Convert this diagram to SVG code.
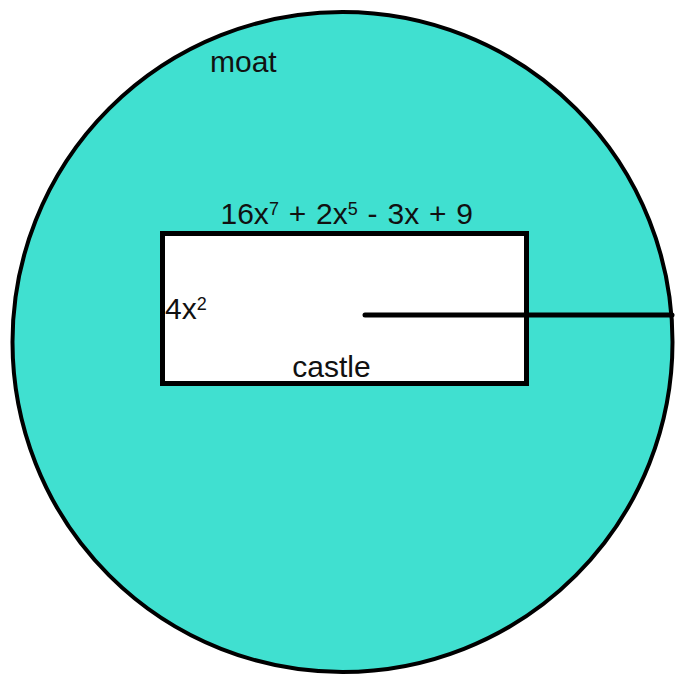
<svg xmlns="http://www.w3.org/2000/svg" width="679" height="675" viewBox="0 0 679 675">
<style>
text{font-family:"Liberation Sans",Arial,sans-serif;fill:#111;}
.t{font-size:30px;}
.s{font-size:18px;}
</style>
<rect width="679" height="675" fill="#fff"/>
<g id="moat">
<circle cx="342.5" cy="342" r="330" fill="#40E0D0" stroke="#000" stroke-width="4"/>
<text class="t" x="210" y="72">moat</text>
</g>
<g id="castle">
<rect x="162.5" y="233.5" width="364" height="150" fill="#fff" stroke="#000" stroke-width="5"/>
<text class="t" x="331.5" y="377" text-anchor="middle">castle</text>
<text class="t" x="165" y="319">4x<tspan class="s" dy="-9">2</tspan></text>
<text class="t" x="220.5" y="224" word-spacing="1.5">16x<tspan class="s" dy="-9">7</tspan><tspan dy="9"> + 2x</tspan><tspan class="s" dy="-9">5</tspan><tspan dy="9"> - 3x + 9</tspan></text>
</g>
<g id="connectors">
<line x1="365" y1="315" x2="672" y2="315" stroke="#000" stroke-width="5" stroke-linecap="round"/>
</g>
</svg>
